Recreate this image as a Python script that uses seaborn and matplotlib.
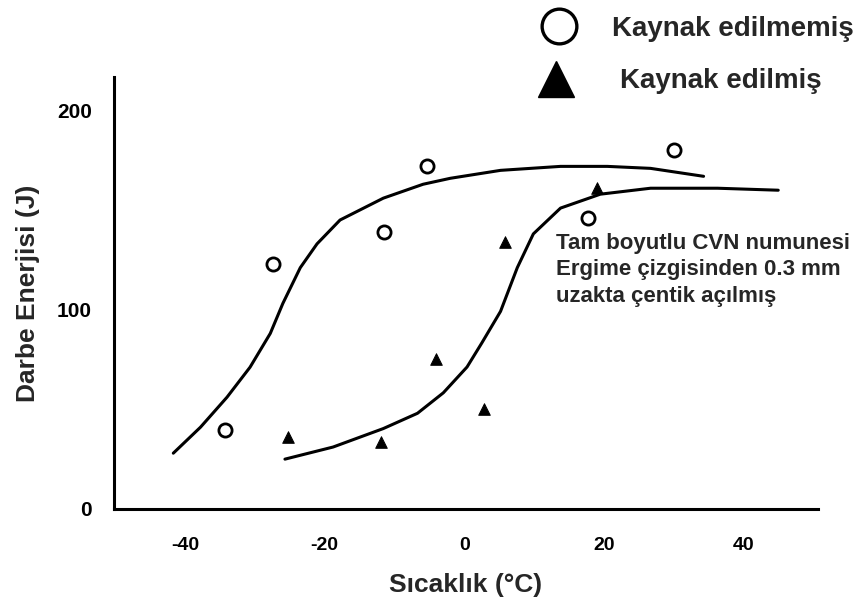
import matplotlib
matplotlib.use("Agg")
import matplotlib.pyplot as plt
from matplotlib.lines import Line2D
import seaborn as sns
import pandas as pd

# Data points
unwelded_T = [-34.3, -27.4, -11.5, -5.4, 17.8, 30.0]
unwelded_E = [39.5, 123, 139, 172, 146, 180]
welded_T = [-25.2, -12.0, -4.0, 2.9, 5.9, 19.0]
welded_E = [36, 33, 75, 50, 134, 161]

# Hand-drawn fitted curves
curve1_T = [-41.7, -37.8, -34.0, -30.7, -27.8, -26.0, -23.5, -21.1, -17.8, -11.6,
            -5.9, -2.0, 5.2, 13.8, 20.5, 26.7, 34.3]
curve1_E = [27.6, 40.7, 55.8, 70.9, 87.9, 103, 121, 133, 145, 156,
            163, 166, 170, 172, 172, 171, 167]
curve2_T = [-25.7, -18.8, -11.6, -6.7, -3.0, 0.4, 2.5, 5.2, 7.6, 9.9, 13.8,
            19.5, 26.7, 36.3, 45.0]
curve2_E = [24.6, 30.7, 40.0, 47.7, 58.0, 71.0, 83.0, 99.0, 121, 138, 151,
            158, 161, 161, 160]

x_ticks = [-40, -20, 0, 20, 40]
x_tick_labels = ["-40", "-20", "0", "20", "40"]
y_ticks = [0, 100, 200]
y_tick_labels = ["0", "100", "200"]

legend_labels = ["Kaynak edilmemiş", "Kaynak edilmiş"]
note_text = "Tam boyutlu CVN numunesi\nErgime çizgisinden 0.3 mm\nuzakta çentik açılmış"
x_label = "Sıcaklık (°C)"
y_label = "Darbe Enerjisi (J)"

sns.set_style("white")
plt.rcParams["font.family"] = ["Liberation Sans", "DejaVu Sans"]

W, H = 863, 606
fig = plt.figure(figsize=(W / 100, H / 100), dpi=100)
ax = fig.add_axes([114 / W, 1 - 509 / H, (818 - 114) / W, (509 - 77) / H])

df_c1 = pd.DataFrame({"T": curve1_T, "E": curve1_E})
df_c2 = pd.DataFrame({"T": curve2_T, "E": curve2_E})
sns.lineplot(data=df_c1, x="T", y="E", ax=ax, color="black", lw=2.2,
             sort=False, estimator=None)
sns.lineplot(data=df_c2, x="T", y="E", ax=ax, color="black", lw=2.2,
             sort=False, estimator=None)

df_u = pd.DataFrame({"T": unwelded_T, "E": unwelded_E})
df_w = pd.DataFrame({"T": welded_T, "E": welded_E})
sns.scatterplot(data=df_u, x="T", y="E", ax=ax, marker="o", s=90,
                facecolor="white", edgecolor="black", linewidth=2.0, zorder=5)
sns.scatterplot(data=df_w, x="T", y="E", ax=ax, marker="^", s=70,
                color="black", edgecolor="black", zorder=5)

ax.set_xlim(-50.2, 50.7)
ax.set_ylim(-0.5, 217)
ax.set_xticks(x_ticks)
ax.set_xticklabels(x_tick_labels)
ax.set_yticks(y_ticks)
ax.set_yticklabels(y_tick_labels)
for s in ["top", "right"]:
    ax.spines[s].set_visible(False)
for s in ["left", "bottom"]:
    ax.spines[s].set_linewidth(2.2)
    ax.spines[s].set_color("black")
ax.tick_params(axis="x", direction="in", length=9, width=1.8, labelsize=14,
               pad=20, colors="black")
ax.tick_params(axis="y", direction="in", length=12, width=2.2, labelsize=15,
               pad=16, colors="black")
for lab in ax.get_xticklabels() + ax.get_yticklabels():
    lab.set_fontweight("bold")

ax.set_xlabel(x_label, fontsize=19, fontweight="bold", labelpad=14)
ax.set_ylabel(y_label, fontsize=19, fontweight="bold", labelpad=12)

fig.text(556 / W, 1 - 270 / H, note_text, fontsize=16, fontweight="bold",
         va="center", ha="left", linespacing=1.32)

# Legend keys (figure coordinates)
fig.add_artist(Line2D([559 / W], [1 - 26 / H], transform=fig.transFigure,
                      marker="o", linestyle="none", markersize=25,
                      markerfacecolor="white", markeredgecolor="black",
                      markeredgewidth=2.4))
fig.add_artist(Line2D([556 / W], [1 - 79 / H], transform=fig.transFigure,
                      marker="^", linestyle="none", markersize=26,
                      markerfacecolor="black", markeredgecolor="black"))
fig.text(612 / W, 1 - 29 / H, legend_labels[0], fontsize=20, fontweight="bold",
         va="center", ha="left")
fig.text(620 / W, 1 - 81 / H, legend_labels[1], fontsize=20, fontweight="bold",
         va="center", ha="left")

fig.savefig("out.png", dpi=100)
